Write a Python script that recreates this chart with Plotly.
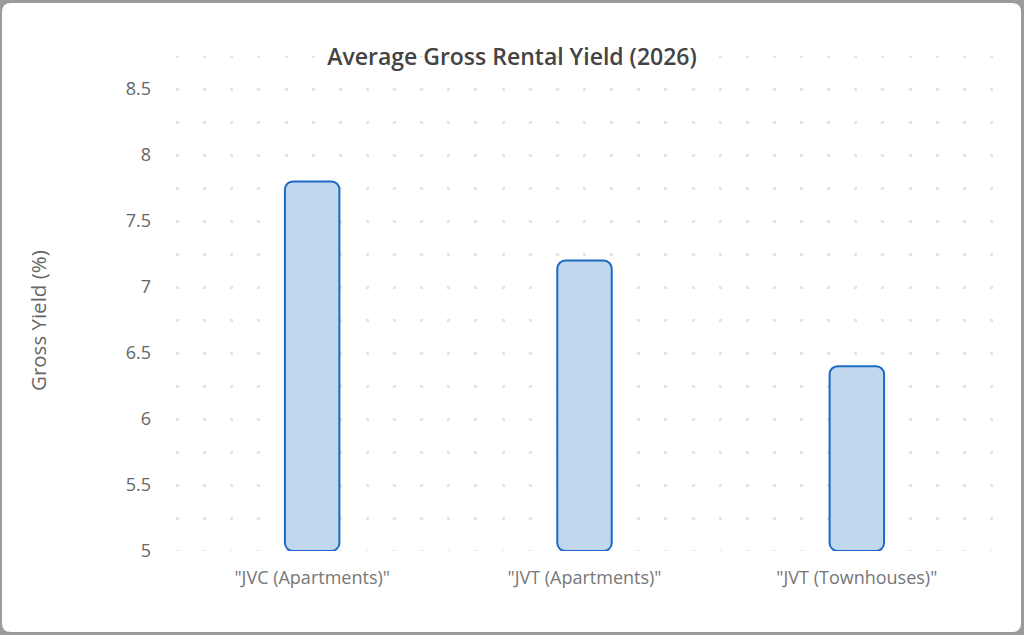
import plotly.graph_objects as go

# ---- data ----
categories = ['"JVC (Apartments)"', '"JVT (Apartments)"', '"JVT (Townhouses)"']
yields = [7.8, 7.2, 6.4]
y_tick_vals = [5, 5.5, 6, 6.5, 7, 7.5, 8, 8.5]
y_tick_text = ["5", "5.5", "6", "6.5", "7", "7.5", "8", "8.5"]
title_text = "Average Gross Rental Yield (2026)"
y_title = "Gross Yield (%)"
y_min, y_max = 5, 8.75

FILL = "#c0d7ed"
EDGE = "#1a69c2"
BAR_W = 0.2
FONT = "Open Sans"

# layout geometry (pixels)
W, H = 1024, 635
L, R, T, B = 176, 31, 56, 84
pw, ph = W - L - R, H - T - B

fig = go.Figure()
fig.add_trace(go.Bar(
    x=categories, y=[v - y_min for v in yields], base=[y_min] * len(yields),
    width=BAR_W, marker=dict(color=FILL, line=dict(color=EDGE, width=2), cornerradius=8),
    cliponaxis=False, showlegend=False, customdata=yields,
    hovertemplate="%{x}: %{customdata}%<extra></extra>",
))
# invisible trace carrying the dot-grid axis
fig.add_trace(go.Scatter(x=[None], y=[None], xaxis="x2", showlegend=False, hoverinfo="skip"))


def px2paper(px, py):
    return (px - L) / pw, (H - B - py) / ph


# white rounded card over gray backdrop
x0, y0, x1, y1, r = 2, 3, 1021, 632, 9
def P(px, py):
    a, b = px2paper(px, py)
    return f"{a:.5f},{b:.5f}"
path = (f"M{P(x0 + r, y0)} L{P(x1 - r, y0)} Q{P(x1, y0)} {P(x1, y0 + r)} "
        f"L{P(x1, y1 - r)} Q{P(x1, y1)} {P(x1 - r, y1)} "
        f"L{P(x0 + r, y1)} Q{P(x0, y1)} {P(x0, y1 - r)} "
        f"L{P(x0, y0 + r)} Q{P(x0, y0)} {P(x0 + r, y0)} Z")

ext = 1.5 / (pw / 3)  # keep edge grid columns from being clipped
yt_x, yt_y = px2paper(38, 321)

fig.update_layout(
    width=W, height=H,
    margin=dict(l=L, r=R, t=T, b=B, autoexpand=False),
    paper_bgcolor="#9b9b9b",
    plot_bgcolor="rgba(0,0,0,0)",
    font=dict(family=FONT, color="#666666", size=18),
    title=dict(text=title_text, x=0.5, xref="container", xanchor="center",
               y=1 - 57 / H, yref="container", yanchor="middle",
               font=dict(family=FONT, size=23, color="#444444", weight=600)),
    shapes=[dict(type="path", xref="paper", yref="paper", path=path,
                 fillcolor="white", line=dict(width=0), layer="below")],
    annotations=[dict(text=y_title, xref="paper", yref="paper", x=yt_x, y=yt_y,
                      xanchor="center", yanchor="middle", textangle=-90,
                      showarrow=False, font=dict(size=20.5, color="#666666"))],
    xaxis=dict(type="category", range=[-0.5, 2.5], showgrid=False, zeroline=False,
               showline=False, ticks="", ticklabelstandoff=14,
               tickfont=dict(size=18, color="#777777")),
    xaxis2=dict(overlaying="x", range=[-0.5 - ext, 2.5 + ext], tick0=-0.5, dtick=0.1,
                showgrid=True, gridcolor="#e4e4e4", gridwidth=3,
                griddash="1.5px,30px,1.5px,0px", showticklabels=False,
                zeroline=False, showline=False, ticks=""),
    yaxis=dict(range=[y_min, y_max], tickvals=y_tick_vals, ticktext=y_tick_text,
               showgrid=False, zeroline=False, showline=False, ticks="",
               ticklabelstandoff=24, tickfont=dict(size=18, color="#666666")),
)

fig.write_html("out.html")
